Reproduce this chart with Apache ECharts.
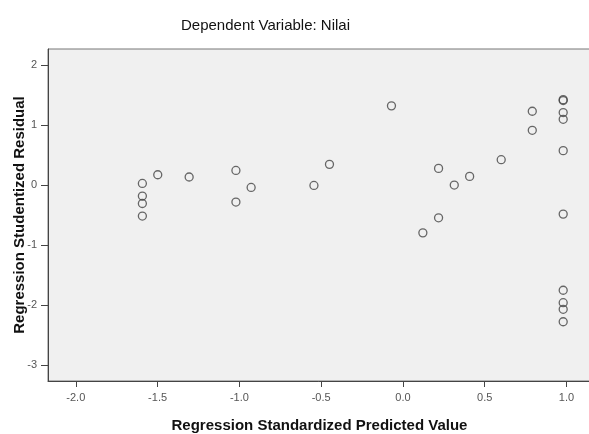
<!DOCTYPE html>
<html>
<head>
<meta charset="utf-8">
<script src="https://cdn.jsdelivr.net/npm/echarts@6/dist/echarts.min.js"></script>
<style>
html,body{margin:0;padding:0;background:#fff;}
#c{width:589px;height:434px;}
</style>
</head>
<body>
<div id="c"></div>
<script>
// Regression Standardized Predicted Value (x) and Studentized Residual (y)
const predicted = [
  -1.593, -1.593, -1.593, -1.593, -1.499, -1.307, -1.021, -1.021,
  -0.928, -0.544, -0.449, -0.070,
  0.122, 0.218, 0.218, 0.314, 0.408, 0.601, 0.791, 0.791,
  0.980, 0.980, 0.980, 0.980, 0.980, 0.980, 0.980, 0.980, 0.980, 0.980
];
const residual = [
  0.027, -0.184, -0.308, -0.518, 0.172, 0.134, 0.244, -0.284,
  -0.040, -0.007, 0.345, 1.321,
  -0.798, 0.278, -0.547, 0.000, 0.144, 0.423, 1.231, 0.913,
  1.425, 1.410, 1.209, 1.097, 0.574, -0.485, -1.756, -1.963, -2.074, -2.281
];
const xTicks = [-2.0, -1.5, -1.0, -0.5, 0.0, 0.5, 1.0];
const yTicks = [-3, -2, -1, 0, 1, 2];

const points = predicted.map((v, i) => [v, residual[i]]);
const font = '"Liberation Sans", Arial, sans-serif';

const chart = echarts.init(document.getElementById('c'));
chart.setOption({
  animation: false,
  backgroundColor: '#ffffff',
  title: {
    text: 'Dependent Variable: Nilai',
    left: 176, top: 13,
    textStyle: { fontFamily: font, fontSize: 15, fontWeight: 'normal', color: '#111' }
  },
  grid: {
    left: 48, top: 49, right: -2, bottom: 53,
    outerBoundsMode: 'none', containLabel: false,
    show: true, backgroundColor: '#f0f0f0', borderColor: '#777', borderWidth: 1
  },
  xAxis: {
    type: 'value', min: -2.17, max: 1.15,
    name: 'Regression Standardized Predicted Value',
    nameLocation: 'middle', nameGap: 37,
    nameTextStyle: { fontFamily: font, fontSize: 15, fontWeight: 'bold', color: '#111' },
    splitLine: { show: false },
    axisLine: { show: true, onZero: false, lineStyle: { color: '#444', width: 1 } },
    axisTick: { show: true, length: 6, lineStyle: { color: '#444' }, customValues: xTicks },
    axisLabel: {
      customValues: xTicks, margin: 11,
      fontFamily: font, fontSize: 11, color: '#555',
      formatter: v => v.toFixed(1)
    }
  },
  yAxis: {
    type: 'value', min: -3.27, max: 2.27,
    name: 'Regression Studentized Residual',
    nameLocation: 'middle', nameGap: 21, nameMoveOverlap: false,
    nameTextStyle: { fontFamily: font, fontSize: 15, fontWeight: 'bold', color: '#111' },
    splitLine: { show: false },
    axisLine: { show: true, onZero: false, lineStyle: { color: '#444', width: 1 } },
    axisTick: { show: true, length: 7, lineStyle: { color: '#444' }, customValues: yTicks },
    axisLabel: {
      customValues: yTicks, margin: 11,
      fontFamily: font, fontSize: 11, color: '#555',
      formatter: v => String(Math.round(v))
    }
  },
  series: [{
    type: 'scatter',
    data: points,
    symbol: 'circle',
    symbolSize: 8,
    itemStyle: { color: 'rgba(0,0,0,0)', borderColor: '#444', borderWidth: 1.3 }
  }]
});
</script>
</body>
</html>
